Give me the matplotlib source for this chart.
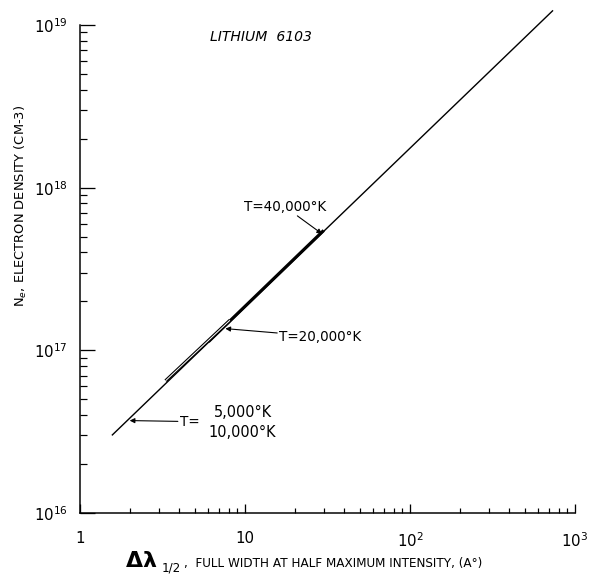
import numpy as np
from matplotlib import pyplot as plt
from matplotlib.ticker import FixedLocator, FixedFormatter, LogLocator, NullFormatter


# line width (A) vs electron density (cm-3)
width_main = [1.56, 736.0]
dens_main = [3.0e16, 1.23e19]

width_20k = [3.3, 8.1]
dens_20k = [6.5e16, 1.53e17]

width_40k = [6.0, 30.0]
dens_40k = [1.13e17, 5.46e17]

# where the temperature arrows point
arrow_x = [29.3, 7.6, 2.0]
arrow_y = [5.2e17, 1.36e17, 3.7e16]

xtick_vals = [1, 10, 100, 1000]
xtick_text = ['1', '10', r'$10^2$', r'$10^3$']


fig = plt.figure(figsize=(590 / 72, 576 / 72), dpi=72)
ax = fig.add_axes([80 / 590, 63 / 576, 495 / 590, 488 / 576])

ax.plot(width_main, dens_main, color='black', lw=1.4, solid_capstyle='butt', clip_on=False)
ax.plot(width_40k, dens_40k, color='black', lw=3.2, solid_capstyle='butt')
ax.plot(width_20k, dens_20k, color='black', lw=3.2, solid_capstyle='butt')
ax.plot(width_20k, dens_20k, color='white', lw=1.0, solid_capstyle='butt')

ax.set_xscale('log')
ax.set_yscale('log')
ax.set_xlim(1, 1000)
ax.set_ylim(1e16, 1e19)

for s in ['top', 'right']:
    ax.spines[s].set_visible(False)
for s in ['left', 'bottom']:
    ax.spines[s].set_linewidth(1.5)

ax.xaxis.set_major_locator(FixedLocator(xtick_vals))
ax.xaxis.set_major_formatter(FixedFormatter(xtick_text))
ax.xaxis.set_minor_locator(LogLocator(base=10, subs=np.arange(2, 10)))
ax.xaxis.set_minor_formatter(NullFormatter())
ax.yaxis.set_minor_locator(LogLocator(base=10, subs=np.arange(2, 10)))
ax.yaxis.set_minor_formatter(NullFormatter())

ax.tick_params(axis='x', which='major', direction='in', length=9, width=1.3, pad=18, labelsize=15)
ax.tick_params(axis='x', which='minor', direction='in', length=5, width=1.2)
ax.tick_params(axis='y', which='major', direction='in', length=15, width=1.3, pad=12, labelsize=15)
ax.tick_params(axis='y', which='minor', direction='in', length=7, width=1.2)

ax.text(0.262, 0.975, 'LITHIUM  6103', transform=ax.transAxes, fontsize=14,
        style='italic', ha='left', va='center')

arrow = dict(arrowstyle='-|>', color='black', lw=1.1, mutation_scale=10, shrinkA=0, shrinkB=0)
ax.annotate('T=40,000°K', xy=(arrow_x[0], arrow_y[0]), xytext=(-37, 27),
            textcoords='offset points', ha='center', va='center', fontsize=13.5, arrowprops=arrow)
ax.annotate('T=20,000°K', xy=(arrow_x[1], arrow_y[1]), xytext=(95, -8),
            textcoords='offset points', ha='center', va='center', fontsize=13.5, arrowprops=arrow)
ax.annotate('T=', xy=(arrow_x[2], arrow_y[2]), xytext=(60, -1),
            textcoords='offset points', ha='center', va='center', fontsize=13.5, arrowprops=arrow)
ax.annotate('5,000°K\n10,000°K', xy=(arrow_x[2], arrow_y[2]), xytext=(113, -2),
            textcoords='offset points', ha='center', va='center', fontsize=14.5, linespacing=1.4)

ax.set_ylabel(r'N$_e$, ELECTRON DENSITY (CM-3)', fontsize=13)
ax.yaxis.set_label_coords(-0.103, 0.63)

fig.text(125 / 590, 1 - 561 / 576, r'$\mathbf{\Delta\lambda}$', fontsize=22, ha='left', va='center')
fig.text(162 / 590, 1 - 568 / 576, '1/2', fontsize=12, ha='left', va='center')
fig.text(184 / 590, 1 - 564 / 576, ',  FULL WIDTH AT HALF MAXIMUM INTENSITY, (A°)',
         fontsize=12, ha='left', va='center')

fig.savefig('out.png', dpi=72, facecolor='white')
